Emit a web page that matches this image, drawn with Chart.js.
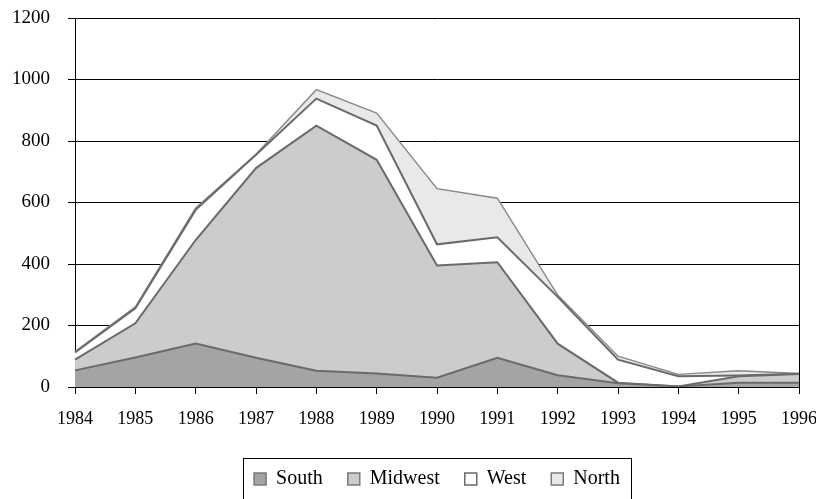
<!DOCTYPE html>
<html>
<head>
<meta charset="utf-8">
<script src="https://cdn.jsdelivr.net/npm/chart.js@4.4.0/dist/chart.umd.min.js"></script>
<style>
  html, body { margin: 0; padding: 0; background: #fff; }
  #wrap { width: 816px; height: 499px; position: relative; }
</style>
</head>
<body>
<div id="wrap"><canvas id="c" width="816" height="499"></canvas></div>
<script>
const years = ['1984','1985','1986','1987','1988','1989','1990','1991','1992','1993','1994','1995','1996'];
const south   = [54, 96, 141, 95, 53, 44, 30, 95, 38, 12, 2, 14, 14];
const midwest = [35, 111, 337, 617, 797, 695, 365, 311, 103, 2, 0, 21, 28];
const west    = [23, 49, 98, 43, 88, 111, 69, 81, 152, 75, 33, 2, 1];
const north   = [3, 5, 6, 2, 29, 41, 181, 127, 6, 11, 6, 16, 1];
const yTicks  = [0, 200, 400, 600, 800, 1000, 1200];

const FONT = "'Liberation Serif', 'Times New Roman', serif";

const legendFrame = {
  id: 'legendFrame',
  beforeUpdate(chart) {
    if (chart.legend) {
      chart.legend.afterFit = function () { this.height = 55; };
    }
  },
  afterDraw(chart) {
    const lg = chart.legend;
    if (!lg || !lg.legendHitBoxes || !lg.legendHitBoxes.length) return;
    const hb = lg.legendHitBoxes;
    let l = Infinity, r = -Infinity;
    hb.forEach(b => { l = Math.min(l, b.left); r = Math.max(r, b.left + b.width); });
    const ctx = chart.ctx;
    ctx.save();
    ctx.strokeStyle = '#000';
    ctx.lineWidth = 1;
    ctx.strokeRect(Math.round(l - 11) + 0.5, 458.5, Math.round(r - l + 22), 60);
    ctx.restore();
  }
};

function ds(label, data, fill, bg, line, lw) {
  return {
    label, data, fill,
    backgroundColor: bg,
    borderColor: line,
    borderWidth: lw,
    pointRadius: 0,
    pointHoverRadius: 0,
    tension: 0
  };
}

new Chart(document.getElementById('c'), {
  type: 'line',
  data: {
    labels: years,
    datasets: [
      ds('South', south, 'origin', '#a3a4a3', '#6a6a6a', 2),
      ds('Midwest', midwest, '-1', '#cbcccd', '#6a6a6a', 2),
      ds('West', west, '-1', '#ffffff', '#6a6a6a', 2),
      ds('North', north, '-1', '#e9e9e9', '#888888', 1.4)
    ]
  },
  options: {
    responsive: false,
    animation: false,
    layout: { padding: { left: 0, right: 17, top: 18, bottom: 0 } },
    plugins: {
      legend: {
        position: 'bottom',
        fullSize: false,
        labels: {
          font: { family: FONT, size: 20 },
          color: '#000',
          boxWidth: 12,
          boxHeight: 12,
          padding: 25,
          generateLabels(chart) {
            return chart.data.datasets.map((d, i) => ({
              text: d.label,
              fillStyle: d.backgroundColor,
              strokeStyle: i === 2 ? '#6a6a6a' : '#7a7a7a',
              lineWidth: 1.5,
              hidden: false,
              datasetIndex: i,
              fontColor: '#000'
            }));
          }
        }
      },
      tooltip: { enabled: false }
    },
    scales: {
      x: {
        type: 'category',
        offset: false,
        afterFit(scale) {
          scale.height = 57;
          scale.paddingLeft = 0;
          scale.paddingRight = 0;
        },
        grid: {
          offset: false,
          drawOnChartArea: true,
          color: (c) => (c.index === years.length - 1 ? '#000' : 'rgba(0,0,0,0)'),
          tickColor: '#000',
          tickLength: 7,
          lineWidth: 1
        },
        border: { display: true, color: '#000', width: 1 },
        ticks: {
          font: { family: FONT, size: 18 },
          color: '#000',
          padding: 14,
          maxRotation: 0,
          autoSkip: false
        }
      },
      y: {
        stacked: true,
        min: 0,
        max: 1200,
        afterFit(scale) {
          scale.width = 75;
          scale.paddingTop = 0;
          scale.paddingBottom = 0;
        },
        afterBuildTicks(scale) { scale.ticks = yTicks.map(v => ({ value: v })); },
        grid: {
          color: '#000',
          tickColor: '#000',
          tickLength: 7,
          lineWidth: 1
        },
        border: { display: true, color: '#000', width: 1 },
        ticks: {
          font: { family: FONT, size: 19 },
          color: '#000',
          padding: 18,
          callback: (v) => String(v)
        }
      }
    }
  },
  plugins: [legendFrame]
});
</script>
</body>
</html>
